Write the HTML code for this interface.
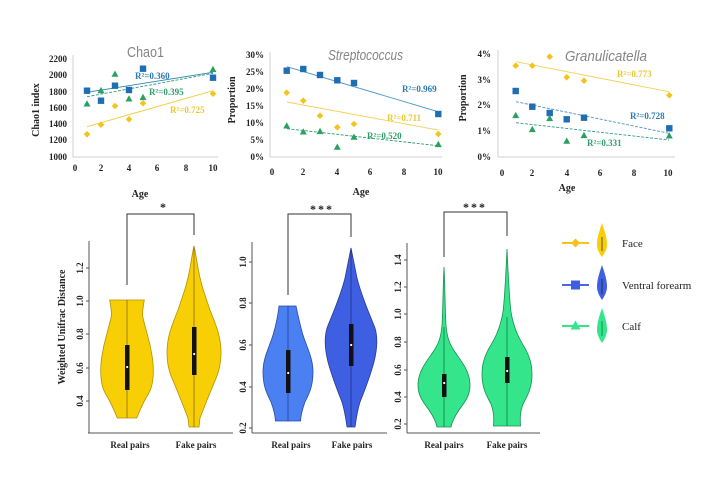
<!DOCTYPE html>
<html><head><meta charset="utf-8"><style>
html,body{margin:0;padding:0;background:#fff;}
svg{display:block;}
.tk{font-family:"Liberation Serif",serif;font-weight:bold;font-size:9px;fill:#222;}
.ax{font-family:"Liberation Serif",serif;font-weight:bold;font-size:10px;fill:#222;}
.r2{font-family:"Liberation Serif",serif;font-weight:bold;font-size:9px;}
.ttl{font-family:"Liberation Sans",sans-serif;font-size:15px;fill:#858585;}
.lg{font-family:"Liberation Serif",serif;font-size:11px;fill:#222;}
</style></head><body>
<svg width="720" height="480" viewBox="0 0 720 480" xmlns="http://www.w3.org/2000/svg">
<defs>
<g id="sq"><rect x="-3.2" y="-3.2" width="6.4" height="6.4" fill="#1f6db3"/></g>
<g id="dm"><path d="M0,-3.3 L3.3,0 L0,3.3 L-3.3,0Z" fill="#f3c41c"/></g>
<g id="tr"><path d="M0,-3.5 L3.5,2.8 L-3.5,2.8Z" fill="#2aa063"/></g>
</defs>

<!-- ===== Panel 1: Chao1 ===== -->
<line x1="73" y1="55" x2="73" y2="157" stroke="#d0d0d0" stroke-width="1"/>
<line x1="73" y1="157" x2="218" y2="157" stroke="#d0d0d0" stroke-width="1"/>
<text class="ttl" x="127" y="57" textLength="37" lengthAdjust="spacingAndGlyphs">Chao1</text>
<g class="tk" text-anchor="end">
<text x="67" y="62">2200</text><text x="67" y="78">2000</text><text x="67" y="95">1800</text>
<text x="67" y="111">1600</text><text x="67" y="127">1400</text><text x="67" y="143">1200</text><text x="67" y="160">1000</text>
</g>
<g class="tk" text-anchor="middle">
<text x="75" y="171">0</text><text x="101" y="171">2</text><text x="129" y="171">4</text>
<text x="157" y="171">6</text><text x="186" y="171">8</text><text x="213" y="171">10</text>
</g>
<text class="ax" x="140" y="197" text-anchor="middle">Age</text>
<text class="ax" transform="translate(39,110) rotate(-90)" text-anchor="middle">Chao1 index</text>
<line x1="87" y1="92.3" x2="213" y2="72.3" stroke="#2d80b4" stroke-width="0.9"/>
<line x1="87" y1="96.7" x2="213" y2="73.3" stroke="#2e9e78" stroke-width="0.9" stroke-dasharray="3,1.5"/>
<line x1="87" y1="126.7" x2="213" y2="90.7" stroke="#f0cc40" stroke-width="0.9"/>
<use href="#tr" x="87" y="103.7"/><use href="#tr" x="101" y="90.4"/><use href="#tr" x="115" y="74"/>
<use href="#tr" x="129" y="98.7"/><use href="#tr" x="143" y="97.3"/><use href="#tr" x="213" y="69.3"/>
<use href="#dm" x="87" y="134.3"/><use href="#dm" x="101" y="124.7"/><use href="#dm" x="115" y="106"/>
<use href="#dm" x="129" y="119.3"/><use href="#dm" x="143" y="103.3"/><use href="#dm" x="213" y="93.7"/>
<use href="#sq" x="87" y="90.7"/><use href="#sq" x="101" y="100.7"/><use href="#sq" x="115" y="85.7"/>
<use href="#sq" x="129" y="90"/><use href="#sq" x="143" y="68.7"/><use href="#sq" x="213" y="77.7"/>
<text class="r2" x="135" y="79" fill="#2b7ab5">R²=0.360</text>
<text class="r2" x="149" y="95" fill="#2e9e6a">R²=0.395</text>
<text class="r2" x="170" y="113" fill="#eac630">R²=0.725</text>

<!-- ===== Panel 2: Streptococcus ===== -->
<line x1="270" y1="52" x2="270" y2="157" stroke="#d0d0d0" stroke-width="1"/>
<line x1="270" y1="157" x2="442" y2="157" stroke="#d0d0d0" stroke-width="1"/>
<text class="ttl" x="328" y="60" font-style="italic" textLength="75" lengthAdjust="spacingAndGlyphs">Streptococcus</text>
<g class="tk" text-anchor="end">
<text x="264" y="58">30%</text><text x="264" y="75">25%</text><text x="264" y="92">20%</text>
<text x="264" y="109">15%</text><text x="264" y="126">10%</text><text x="264" y="143">5%</text><text x="264" y="160">0%</text>
</g>
<g class="tk" text-anchor="middle">
<text x="272" y="175">0</text><text x="303" y="175">2</text><text x="337" y="175">4</text>
<text x="370" y="175">6</text><text x="404" y="175">8</text><text x="438" y="175">10</text>
</g>
<text class="ax" x="361" y="195" text-anchor="middle">Age</text>
<text class="ax" transform="translate(235,100) rotate(-90)" text-anchor="middle">Proportion</text>
<line x1="287" y1="66.7" x2="438" y2="111.7" stroke="#4a93c8" stroke-width="0.9"/>
<line x1="287" y1="102" x2="438" y2="130" stroke="#f2d15a" stroke-width="0.9"/>
<line x1="287" y1="128.7" x2="438" y2="145.7" stroke="#2e9e6a" stroke-width="0.9" stroke-dasharray="3,1.5"/>
<use href="#sq" x="286.7" y="70.7"/><use href="#sq" x="303.3" y="69"/><use href="#sq" x="320" y="75"/>
<use href="#sq" x="337.3" y="80.3"/><use href="#sq" x="354" y="83"/><use href="#sq" x="438.3" y="114"/>
<use href="#dm" x="286.7" y="92.7"/><use href="#dm" x="303.3" y="100.7"/><use href="#dm" x="320" y="115.7"/>
<use href="#dm" x="337.3" y="127.3"/><use href="#dm" x="354" y="124"/><use href="#dm" x="438.3" y="134"/>
<use href="#tr" x="286.7" y="125.7"/><use href="#tr" x="303.3" y="131.7"/><use href="#tr" x="320" y="131.3"/>
<use href="#tr" x="337.3" y="147"/><use href="#tr" x="354" y="137"/><use href="#tr" x="438.3" y="144.3"/>
<text class="r2" x="402" y="92" fill="#2b7ab5">R²=0.969</text>
<text class="r2" x="387" y="121" fill="#eac630">R²=0.711</text>
<text class="r2" x="367" y="139" fill="#2e9e6a">R²=0.520</text>

<!-- ===== Panel 3: Granulicatella ===== -->
<line x1="498" y1="50" x2="498" y2="157" stroke="#d0d0d0" stroke-width="1"/>
<line x1="498" y1="157" x2="675" y2="157" stroke="#d0d0d0" stroke-width="1"/>
<text class="ttl" x="565" y="61" font-style="italic" textLength="82" lengthAdjust="spacingAndGlyphs">Granulicatella</text>
<g class="tk" text-anchor="end">
<text x="491" y="57">4%</text><text x="491" y="83">3%</text><text x="491" y="108">2%</text>
<text x="491" y="134">1%</text><text x="491" y="160">0%</text>
</g>
<g class="tk" text-anchor="middle">
<text x="502" y="176">0</text><text x="532" y="176">2</text><text x="567" y="176">4</text>
<text x="600" y="176">6</text><text x="634" y="176">8</text><text x="668" y="176">10</text>
</g>
<text class="ax" x="567" y="191" text-anchor="middle">Age</text>
<text class="ax" transform="translate(466,98) rotate(-90)" text-anchor="middle">Proportion</text>
<line x1="516" y1="61.7" x2="669" y2="91.7" stroke="#f2d15a" stroke-width="0.9"/>
<line x1="516" y1="101.7" x2="669" y2="133.3" stroke="#4a93c8" stroke-width="0.9" stroke-dasharray="3,1.5"/>
<line x1="516" y1="122.7" x2="669" y2="140" stroke="#2e9e8a" stroke-width="0.9" stroke-dasharray="3,1.5"/>
<use href="#dm" x="515.7" y="65.7"/><use href="#dm" x="532.3" y="65.7"/><use href="#dm" x="549.7" y="56.7"/>
<use href="#dm" x="566.7" y="77.3"/><use href="#dm" x="584" y="80.7"/><use href="#dm" x="669.3" y="95.3"/>
<use href="#sq" x="515.7" y="91"/><use href="#sq" x="532.3" y="106.7"/><use href="#sq" x="549.7" y="113"/>
<use href="#sq" x="566.7" y="119.3"/><use href="#sq" x="584" y="117.7"/><use href="#sq" x="669.3" y="128.3"/>
<use href="#tr" x="515.7" y="115.3"/><use href="#tr" x="532.3" y="129.3"/><use href="#tr" x="549.7" y="118.3"/>
<use href="#tr" x="566.7" y="141"/><use href="#tr" x="584" y="135.3"/><use href="#tr" x="669.3" y="135.7"/>
<text class="r2" x="617" y="77" fill="#eac630">R²=0.773</text>
<text class="r2" x="630" y="119" fill="#2b7ab5">R²=0.728</text>
<text class="r2" x="587" y="146" fill="#2e9e6a">R²=0.331</text>

<!-- ===== Violin panel A (yellow) ===== -->
<path d="M127,285 V214 H194 V235" fill="none" stroke="#333" stroke-width="1"/>
<text x="163" y="211" text-anchor="middle" font-family="Liberation Serif,serif" font-weight="bold" font-size="12" fill="#222">*</text>
<line x1="89" y1="241" x2="89" y2="433" stroke="#555" stroke-width="1"/>
<line x1="88" y1="433" x2="233" y2="433" stroke="#555" stroke-width="1"/>
<g stroke="#555" stroke-width="1">
<line x1="86" y1="268" x2="89" y2="268"/><line x1="86" y1="301" x2="89" y2="301"/><line x1="86" y1="334" x2="89" y2="334"/>
<line x1="86" y1="368" x2="89" y2="368"/><line x1="86" y1="401" x2="89" y2="401"/>
</g>
<g class="tk" text-anchor="middle">
<text transform="translate(83,268) rotate(-90)">1.2</text>
<text transform="translate(83,301) rotate(-90)">1.0</text>
<text transform="translate(83,334) rotate(-90)">0.8</text>
<text transform="translate(83,368) rotate(-90)">0.6</text>
<text transform="translate(83,401) rotate(-90)">0.4</text>
</g>
<text class="ax" transform="translate(65,327) rotate(-90)" text-anchor="middle">Weighted Unifrac Distance</text>
<path d="M109.7,300 L144.3,300 C143,308 142,314 143,318 C145,326 147,333 150,345 C152,355 153.5,362 153.3,372 C153,385 151,390 146,398 C142,405 140,410 136.7,418 L117.3,418 C114,410 112,405 108,398 C103,390 101,385 100.7,372 C100.5,362 102,355 104,345 C107,333 109,326 111,318 C112,314 111,308 109.7,300Z" fill="#f7cf04" stroke="#b39200" stroke-width="0.8"/>
<line x1="127" y1="300" x2="127" y2="418" stroke="#8a7000" stroke-width="0.8"/>
<rect x="125" y="345" width="4.5" height="45" fill="#111"/>
<circle cx="127.2" cy="367" r="1.1" fill="#fff"/>
<path d="M194,246 C196,255 197,262 198,268 C201,285 205,295 210,310 C216,325 221,337 221,352 C221,364 219,372 214,383 C209,395 205,405 200,418 L199,427 L189,427 L188,418 C183,405 179,395 174,383 C169,372 167,364 167,352 C167,337 172,325 178,310 C183,295 187,285 190,268 C191,262 192,255 194,246Z" fill="#f7cf04" stroke="#b39200" stroke-width="0.8"/>
<line x1="194" y1="246" x2="194" y2="427" stroke="#8a7000" stroke-width="0.8"/>
<rect x="192" y="327" width="4.5" height="48" fill="#111"/>
<circle cx="194.2" cy="354" r="1.1" fill="#fff"/>
<g class="tk" text-anchor="middle"><text x="130" y="448">Real pairs</text><text x="196" y="448">Fake pairs</text></g>

<!-- ===== Violin panel B (blue) ===== -->
<path d="M288,295 V214 H351 V237" fill="none" stroke="#333" stroke-width="1"/>
<text x="322" y="213" text-anchor="middle" font-family="Liberation Serif,serif" font-weight="bold" font-size="12" fill="#222" letter-spacing="2">***</text>
<line x1="252" y1="242" x2="252" y2="433" stroke="#555" stroke-width="1"/>
<line x1="252" y1="433" x2="387" y2="433" stroke="#555" stroke-width="1"/>
<g stroke="#555" stroke-width="1">
<line x1="249" y1="262" x2="252" y2="262"/><line x1="249" y1="303" x2="252" y2="303"/><line x1="249" y1="345" x2="252" y2="345"/>
<line x1="249" y1="387" x2="252" y2="387"/><line x1="249" y1="428" x2="252" y2="428"/>
</g>
<g class="tk" text-anchor="middle">
<text transform="translate(246,262) rotate(-90)">1.0</text>
<text transform="translate(246,303) rotate(-90)">0.8</text>
<text transform="translate(246,345) rotate(-90)">0.6</text>
<text transform="translate(246,387) rotate(-90)">0.4</text>
<text transform="translate(246,428) rotate(-90)">0.2</text>
</g>
<path d="M279,306 L296,306 C298,315 300,325 303,335 C307,348 313,358 313,372 C313,385 310,392 305,402 C302,410 301,415 300.5,421 L275.5,421 C275,415 274,410 271,402 C266,392 263,385 263,372 C263,358 269,348 273,335 C276,325 278,315 279,306Z" fill="#4a80f2" stroke="#2b4aa0" stroke-width="0.8"/>
<line x1="288" y1="306" x2="288" y2="421" stroke="#253f90" stroke-width="0.8"/>
<rect x="286" y="350" width="4.5" height="43" fill="#111"/>
<circle cx="288.2" cy="373" r="1.1" fill="#fff"/>
<path d="M351,248 C353,258 355,268 357,278 C362,298 370,315 375,328 C378,338 377,350 374,362 C369,380 364,392 360,402 C357,412 356,420 355,427 L347,427 C346,420 345,412 342,402 C338,392 333,380 328,362 C325,350 324,338 327,328 C332,315 340,298 345,278 C347,268 349,258 351,248Z" fill="#3f5fe3" stroke="#263d95" stroke-width="0.8"/>
<line x1="351" y1="248" x2="351" y2="427" stroke="#1f3280" stroke-width="0.8"/>
<rect x="349" y="324" width="4.5" height="42" fill="#111"/>
<circle cx="351.2" cy="345" r="1.1" fill="#fff"/>
<g class="tk" text-anchor="middle"><text x="291" y="448">Real pairs</text><text x="352" y="448">Fake pairs</text></g>

<!-- ===== Violin panel C (green) ===== -->
<path d="M444,257 V212 H507 V236" fill="none" stroke="#333" stroke-width="1"/>
<text x="475" y="211" text-anchor="middle" font-family="Liberation Serif,serif" font-weight="bold" font-size="12" fill="#222" letter-spacing="2">***</text>
<line x1="407" y1="243" x2="407" y2="433" stroke="#555" stroke-width="1"/>
<line x1="407" y1="433" x2="540" y2="433" stroke="#555" stroke-width="1"/>
<g stroke="#555" stroke-width="1">
<line x1="404" y1="260" x2="407" y2="260"/><line x1="404" y1="287" x2="407" y2="287"/><line x1="404" y1="314" x2="407" y2="314"/>
<line x1="404" y1="342" x2="407" y2="342"/><line x1="404" y1="370" x2="407" y2="370"/><line x1="404" y1="397" x2="407" y2="397"/><line x1="404" y1="424" x2="407" y2="424"/>
</g>
<g class="tk" text-anchor="middle">
<text transform="translate(401,260) rotate(-90)">1.4</text>
<text transform="translate(401,287) rotate(-90)">1.2</text>
<text transform="translate(401,314) rotate(-90)">1.0</text>
<text transform="translate(401,342) rotate(-90)">0.8</text>
<text transform="translate(401,370) rotate(-90)">0.6</text>
<text transform="translate(401,397) rotate(-90)">0.4</text>
<text transform="translate(401,424) rotate(-90)">0.2</text>
</g>
<path d="M444,267 C445,285 445,310 446,325 C447,338 450,345 455,352 C462,362 470,372 470,385 C470,396 465,402 459,410 C455,416 452,421 451,427 L437,427 C436,421 433,416 429,410 C423,402 418,396 418,385 C418,372 426,362 433,352 C438,345 441,338 442,325 C443,310 443,285 444,267Z" fill="#34e58c" stroke="#179050" stroke-width="0.8"/>
<line x1="444" y1="327" x2="444" y2="427" stroke="#137a42" stroke-width="0.8"/>
<rect x="442" y="374" width="4.5" height="23" fill="#111"/>
<circle cx="444.2" cy="383" r="1.1" fill="#fff"/>
<path d="M507,249 C508,270 509,295 511,312 C514,330 520,340 526,350 C531,360 532,367 532,375 C532,387 528,395 523,404 C520,412 520,418 520.5,426 L493.5,426 C494,418 494,412 491,404 C486,395 482,387 482,375 C482,367 483,360 488,350 C494,340 500,330 503,312 C505,295 506,270 507,249Z" fill="#34e58c" stroke="#179050" stroke-width="0.8"/>
<line x1="507" y1="317" x2="507" y2="426" stroke="#137a42" stroke-width="0.8"/>
<rect x="505" y="357" width="4.5" height="26" fill="#111"/>
<circle cx="507.2" cy="371" r="1.1" fill="#fff"/>
<g class="tk" text-anchor="middle"><text x="444" y="448">Real pairs</text><text x="507" y="448">Fake pairs</text></g>

<!-- ===== Legend ===== -->
<line x1="562" y1="243" x2="589" y2="243" stroke="#f3c41c" stroke-width="2"/>
<path d="M575.5,238.5 L580,243 L575.5,247.5 L571,243Z" fill="#f3c41c"/>
<path d="M602,223 C605,232 607,238 607,245 C607,250 604,254 602,257 C600,254 597,250 597,245 C597,238 599,232 602,223Z" fill="#f7cf04"/>
<line x1="602" y1="237" x2="602" y2="251" stroke="#333" stroke-width="0.8"/>
<text class="lg" x="622" y="247">Face</text>

<line x1="562" y1="285" x2="589" y2="285" stroke="#4a66e0" stroke-width="2"/>
<rect x="571" y="280.5" width="9" height="9" fill="#3f5fe3"/>
<path d="M602,265 C605,274 607,280 607,287 C607,292 604,297 602,300 C600,297 597,292 597,287 C597,280 599,274 602,265Z" fill="#3f5fe3"/>
<line x1="602" y1="279" x2="602" y2="294" stroke="#222" stroke-width="0.8"/>
<text class="lg" x="622" y="289">Ventral forearm</text>

<line x1="562" y1="326" x2="589" y2="326" stroke="#34e58c" stroke-width="2"/>
<path d="M575.5,320.5 L580.5,329.5 L570.5,329.5Z" fill="#34e58c"/>
<path d="M602,308 C605,317 607,323 607,330 C607,335 604,340 602,343 C600,340 597,335 597,330 C597,323 599,317 602,308Z" fill="#34e58c"/>
<line x1="602" y1="321" x2="602" y2="336" stroke="#137a42" stroke-width="0.8"/>
<text class="lg" x="622" y="330">Calf</text>
</svg>
</body></html>
